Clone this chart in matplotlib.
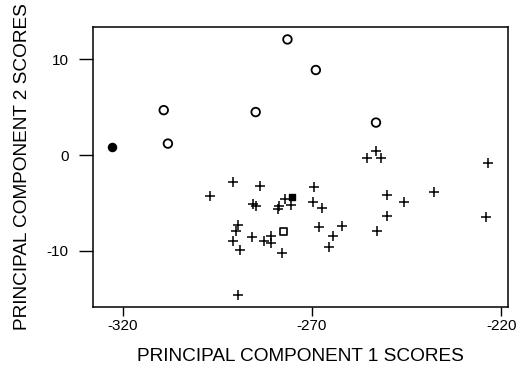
import matplotlib.pyplot as plt

plt.rcParams['font.family'] = ['Liberation Sans', 'DejaVu Sans']
plt.rcParams['axes.unicode_minus'] = False

# Scores on the first two principal components
cross_pc1 = [-253.1, -255.4, -251.9, -223.6,
             -290.8, -283.8, -296.9, -277.1, -275.5, -285.6, -284.7, -278.7,
             -279.1, -289.5, -290.1, -285.9, -280.8, -291.0, -282.8, -280.8,
             -289.1, -277.9, -289.6,
             -269.5, -269.7, -267.5, -250.2, -237.7, -245.7, -250.3, -224.0,
             -268.1, -262.1, -264.4, -265.6, -252.8]
cross_pc2 = [0.42, -0.28, -0.35, -0.87,
             -2.8, -3.25, -4.26, -4.64, -5.24, -5.16, -5.37, -5.37,
             -5.6, -7.33, -7.96, -8.55, -8.48, -8.97, -9.04, -9.2,
             -9.98, -10.3, -14.66,
             -3.3, -4.9, -5.5, -4.2, -3.9, -4.96, -6.4, -6.5,
             -7.5, -7.4, -8.5, -9.6, -7.9]

open_circle_pc1 = [-309.2, -308.1, -284.9, -276.5, -269.0, -253.1]
open_circle_pc2 = [4.7, 1.2, 4.5, 12.1, 8.9, 3.4]

filled_circle_pc1 = [-323.0]
filled_circle_pc2 = [0.84]

open_square_pc1 = [-277.5]
open_square_pc2 = [-8.0]

filled_square_pc1 = [-275.4]
filled_square_pc2 = [-4.4]

xticks = [-320, -270, -220]
yticks = [-10, 0, 10]

fig = plt.figure(figsize=(5.26, 3.74), dpi=100)
ax = fig.add_axes([0.1768, 0.1791, 0.789, 0.7487])

ax.scatter(cross_pc1, cross_pc2, marker='+', s=55, c='black', linewidths=1.1)
ax.scatter(open_circle_pc1, open_circle_pc2, marker='o', s=38,
           facecolors='none', edgecolors='black', linewidths=1.3)
ax.scatter(filled_circle_pc1, filled_circle_pc2, marker='o', s=34, c='black')
ax.scatter(open_square_pc1, open_square_pc2, marker='s', s=22,
           facecolors='none', edgecolors='black', linewidths=1.2)
ax.scatter(filled_square_pc1, filled_square_pc2, marker='s', s=22, c='black')

ax.set_xlim(-327.9, -218.2)
ax.set_ylim(-15.9, 13.4)
ax.set_xticks(xticks)
ax.set_yticks(yticks)
ax.tick_params(axis='x', direction='out', length=6.5, width=1, labelsize=11, pad=2)
ax.tick_params(axis='y', direction='out', length=10, width=1, labelsize=11, pad=7.5)
for sp in ax.spines.values():
    sp.set_linewidth(1.1)

ax.set_xlabel('PRINCIPAL COMPONENT 1 SCORES', fontsize=13.7, labelpad=11)
ax.set_ylabel('PRINCIPAL COMPONENT 2 SCORES', fontsize=13.7, labelpad=11)

fig.savefig('out.png', dpi=100)
